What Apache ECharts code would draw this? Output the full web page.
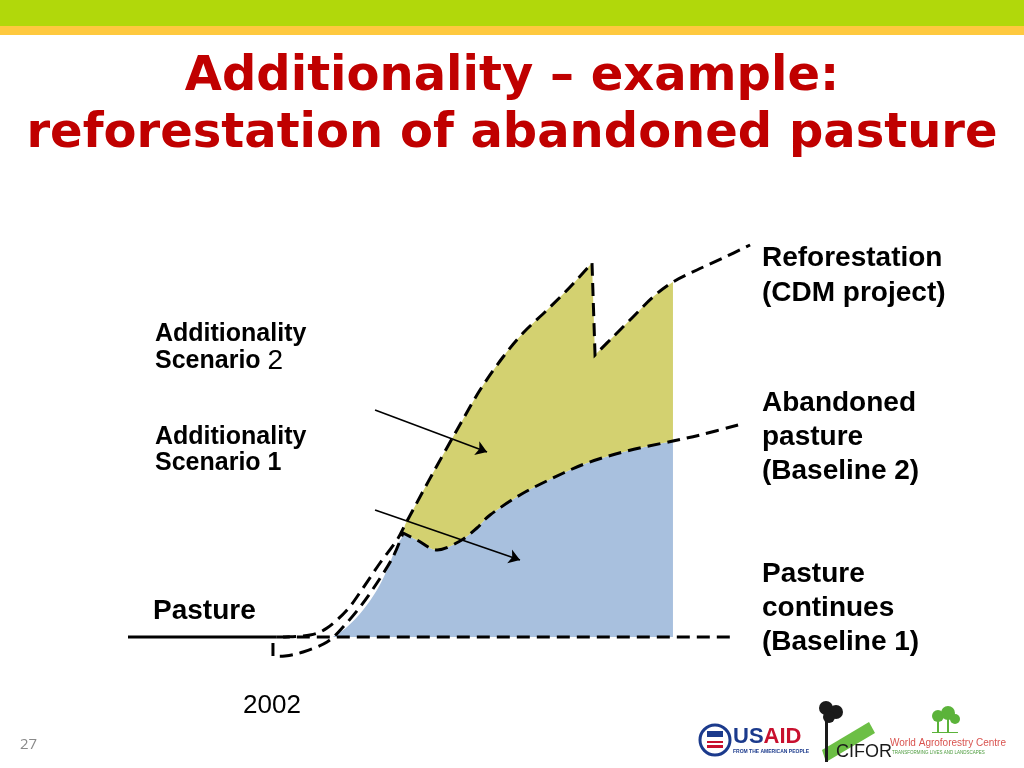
<!DOCTYPE html>
<html><head><meta charset="utf-8">
<script src="https://cdn.jsdelivr.net/npm/echarts@6/dist/echarts.min.js"></script>
<style>html,body{margin:0;padding:0;background:#fff}#c{width:1024px;height:768px}</style>
</head><body><div id="c"></div>
<script>
// ---- data (x = year, y = carbon stock, arbitrary units; 0 = pasture level) ----
const pastureLine = [[1993, 0], [2002.3, 0]];
const baseline1 = [[2002.3, 0], [2030.9, 0]];
const reforestation = [
  [2002.69, 0], [2004.38, 0.5], [2005.44, 2.25], [2006.69, 6.75], [2007.69, 12.25],
  [2008.75, 18.5], [2009.81, 24.25], [2010.31, 28], [2010.81, 31.75], [2012.06, 41],
  [2013.56, 51.75], [2015, 61.75], [2016.44, 70], [2017.69, 76], [2019.19, 81.75],
  [2020.63, 87.5], [2022, 93.5], [2022.19, 70.5], [2023.31, 75], [2024.56, 80],
  [2025.81, 85], [2027.06, 88.75], [2028.56, 91.75], [2030.19, 94.75], [2031.88, 98]
];
const reforestationCorners = [16, 17];           // harvest: peak and drop
const abandonedPasture = [
  [2002.06, -1.5], [2002.06, -4.75], [2002.81, -4.75], [2003.94, -3.75], [2005.44, -1.25],
  [2006.44, 2.5], [2007.5, 7.5], [2008.56, 13.5], [2009.56, 20], [2010.19, 26],
  [2011.06, 24.25], [2012.31, 21.75], [2013.75, 24], [2014.81, 27.25], [2015.63, 30.5],
  [2017.5, 35.5], [2019.56, 39.75], [2021.69, 43.5], [2024.19, 46.5], [2027.06, 49],
  [2028.75, 50.5], [2031.13, 53]
];
const abandonedCorners = [1, 9];
const blueFillEdge = [
  [2005.81, 0], [2006.69, 2.5], [2007.69, 6.75], [2008.56, 11.75], [2009.19, 16.75],
  [2009.69, 21.75], [2010.13, 25]
];
const fillStartYear = 2010.19;
const yellowStartYear = 2010.3;
const fillEndYear = 2027.06;
const arrowScenario2 = [[2008.44, 56.75], [2015.44, 46.25]];
const arrowScenario1 = [[2008.44, 31.75], [2017.5, 19.25]];
const yearLabel = '2002';

// ---- smooth path helpers (pixel points from api.coord) ----
function fmt(p) { return p[0].toFixed(2) + ' ' + p[1].toFixed(2); }
function curveCmds(pts, corners) {
  const cs = new Set(corners || []);
  let d = '';
  for (let i = 0; i < pts.length - 1; i++) {
    const p1 = pts[i], p2 = pts[i + 1];
    const p0 = (i === 0 || cs.has(i)) ? p1 : pts[i - 1];
    const p3 = (i + 2 >= pts.length || cs.has(i + 1)) ? p2 : pts[i + 2];
    const t = 1 / 6;
    const c1 = [p1[0] + (p2[0] - p0[0]) * t, p1[1] + (p2[1] - p0[1]) * t];
    const c2 = [p2[0] - (p3[0] - p1[0]) * t, p2[1] - (p3[1] - p1[1]) * t];
    d += ' C' + fmt(c1) + ' ' + fmt(c2) + ' ' + fmt(p2);
  }
  return d;
}
function sliceWithCorners(data, corners, lo, hi) {
  const idx = [];
  data.forEach((p, i) => { if (p[0] >= lo && p[0] <= hi) idx.push(i); });
  return { pts: idx.map(i => data[i]), corners: corners.map(c => idx.indexOf(c)).filter(c => c >= 0) };
}

function customPath(buildD, style, z) {
  return {
    type: 'custom', coordinateSystem: 'cartesian2d', silent: true, z: z,
    data: [[fillEndYear, 0]],
    renderItem: (params, api) => {
      const c = p => api.coord(p);
      return { type: 'path', shape: { pathData: buildD(c) }, style: style };
    }
  };
}
function curveD(data, corners) {
  return c => { const px = data.map(c); return 'M' + fmt(px[0]) + curveCmds(px, corners); };
}

// fills
const blueTop = sliceWithCorners(abandonedPasture, abandonedCorners, fillStartYear, fillEndYear);
const yellowTop = sliceWithCorners(reforestation, reforestationCorners, yellowStartYear, fillEndYear);
function blueD(c) {
  const e = blueFillEdge.map(c), t = blueTop.pts.map(c);
  return 'M' + fmt(e[0]) + curveCmds(e, []) + ' L' + fmt(t[0]) + curveCmds(t, blueTop.corners.filter(k => k > 0)) +
    ' L' + fmt(c([fillEndYear, 0])) + ' Z';
}
function yellowD(c) {
  const t = yellowTop.pts.map(c);
  const b = blueTop.pts.map(c).reverse();
  return 'M' + fmt(t[0]) + curveCmds(t, yellowTop.corners) + ' L' + fmt(b[0]) + curveCmds(b, []) + ' Z';
}

const dashStyle = { fill: null, stroke: '#000', lineWidth: 3, lineDash: [13, 7] };

const LBL = 'bold 28px "Liberation Sans", Arial, sans-serif';
const LBLS = 'bold 25px "Liberation Sans", Arial, sans-serif';
function txt(text, x, y, font, fill, align) {
  return { type: 'text', z: 10, style: { text, x, y, font, fill: fill || '#000',
    align: align || 'left', verticalAlign: 'middle' } };
}

const chart = echarts.init(document.getElementById('c'));
chart.setOption({
  animation: false,
  grid: { left: 128, right: 272, top: 237, bottom: 91 },
  xAxis: { type: 'value', min: 1993, max: 2032, show: false },
  yAxis: { type: 'value', min: -10, max: 100, show: false },
  series: [
    customPath(blueD, { fill: '#a8c0de' }, 1),
    customPath(yellowD, { fill: '#d3d170' }, 1),
    { type: 'line', data: pastureLine, symbol: 'none', silent: true, z: 3,
      lineStyle: { color: '#000', width: 3 } },
    { type: 'line', data: baseline1, symbol: 'none', silent: true, z: 3,
      lineStyle: { color: '#000', width: 3, type: [13, 7] } },
    customPath(curveD(reforestation, reforestationCorners), dashStyle, 3),
    customPath(curveD(abandonedPasture, abandonedCorners), dashStyle, 3),
    { type: 'lines', coordinateSystem: 'cartesian2d', silent: true, z: 4,
      symbol: ['none', 'arrow'], symbolSize: 11,
      lineStyle: { color: '#000', width: 1.6, opacity: 1 },
      data: [{ coords: arrowScenario2 }, { coords: arrowScenario1 }] }
  ],
  graphic: [
    { type: 'rect', shape: { x: 0, y: 0, width: 1024, height: 26 }, style: { fill: '#b1d80b' } },
    { type: 'rect', shape: { x: 0, y: 26, width: 1024, height: 9 }, style: { fill: '#fec93f' } },
    txt('Additionality – example:', 512, 78, 'bold 48px "DejaVu Sans", Verdana, sans-serif', '#c00000', 'center'),
    txt('reforestation of abandoned pasture', 512, 135, 'bold 48px "DejaVu Sans", Verdana, sans-serif', '#c00000', 'center'),
    txt('Reforestation', 762, 258, LBL),
    txt('(CDM project)', 762, 293, LBL),
    txt('Abandoned', 762, 403, LBL),
    txt('pasture', 762, 437, LBL),
    txt('(Baseline 2)', 762, 471, LBL),
    txt('Pasture', 762, 574, LBL),
    txt('continues', 762, 608, LBL),
    txt('(Baseline 1)', 762, 642, LBL),
    txt('Pasture', 153, 611, LBL),
    txt('Additionality', 155, 334, LBLS),
    { type: 'text', z: 10, style: { x: 155, y: 361, verticalAlign: 'middle',
      text: '{b|Scenario }{n|2}',
      rich: { b: { font: LBLS, fill: '#000' }, n: { font: '28px "Liberation Sans", Arial, sans-serif', fill: '#000' } } } },
    txt('Additionality', 155, 437, LBLS),
    txt('Scenario 1', 155, 463, LBLS),
    txt(yearLabel, 272, 706, '26px "Liberation Sans", Arial, sans-serif', '#000', 'center'),
    txt('27', 20, 745, '15px "Open Sans", sans-serif', '#8a8a8a'),
    // USAID logo (approximation)
    { type: 'circle', z: 10, shape: { cx: 715, cy: 740, r: 15 }, style: { fill: '#fff', stroke: '#1b3a8c', lineWidth: 3 } },
    { type: 'rect', z: 11, shape: { x: 707, y: 731, width: 16, height: 6 }, style: { fill: '#1b3a8c' } },
    { type: 'rect', z: 11, shape: { x: 707, y: 741, width: 16, height: 7 }, style: { fill: '#c8102e' } },
    { type: 'rect', z: 12, shape: { x: 707, y: 743, width: 16, height: 2 }, style: { fill: '#fff' } },
    { type: 'text', z: 10, style: { x: 733, y: 737, verticalAlign: 'middle', text: '{u|US}{a|AID}',
      rich: { u: { font: 'bold 22px "Liberation Sans", Arial, sans-serif', fill: '#1b3a8c' },
              a: { font: 'bold 22px "Liberation Sans", Arial, sans-serif', fill: '#c8102e' } } } },
    txt('FROM THE AMERICAN PEOPLE', 733, 752, 'bold 5px "Liberation Sans", Arial, sans-serif', '#1b3a8c'),
    // CIFOR logo (approximation)
    { type: 'polygon', z: 10, shape: { points: [[822, 750], [869, 722], [875, 733], [826, 762]] }, style: { fill: '#6cbf45' } },
    { type: 'circle', z: 11, shape: { cx: 826, cy: 708, r: 7 }, style: { fill: '#1a1a1a' } },
    { type: 'circle', z: 11, shape: { cx: 836, cy: 712, r: 7 }, style: { fill: '#1a1a1a' } },
    { type: 'circle', z: 11, shape: { cx: 829, cy: 717, r: 6 }, style: { fill: '#1a1a1a' } },
    { type: 'rect', z: 11, shape: { x: 825, y: 718, width: 3, height: 44 }, style: { fill: '#1a1a1a' } },
    txt('CIFOR', 836, 752, '18px "Liberation Sans", Arial, sans-serif', '#1a1a1a'),
    // World Agroforestry Centre logo (approximation)
    { type: 'circle', z: 10, shape: { cx: 938, cy: 716, r: 6 }, style: { fill: '#5bb33a' } },
    { type: 'circle', z: 10, shape: { cx: 948, cy: 713, r: 7 }, style: { fill: '#5bb33a' } },
    { type: 'circle', z: 10, shape: { cx: 955, cy: 719, r: 5 }, style: { fill: '#5bb33a' } },
    { type: 'rect', z: 10, shape: { x: 937, y: 719, width: 2, height: 13 }, style: { fill: '#5bb33a' } },
    { type: 'rect', z: 10, shape: { x: 947, y: 719, width: 2, height: 13 }, style: { fill: '#5bb33a' } },
    { type: 'rect', z: 10, shape: { x: 932, y: 732, width: 26, height: 1 }, style: { fill: '#5bb33a' } },
    txt('World Agroforestry Centre', 890, 743, '10px "Liberation Sans", Arial, sans-serif', '#d9534f'),
    txt('TRANSFORMING LIVES AND LANDSCAPES', 892, 753, '4.5px "Liberation Sans", Arial, sans-serif', '#4a9a3a')
  ]
});
</script></body></html>
